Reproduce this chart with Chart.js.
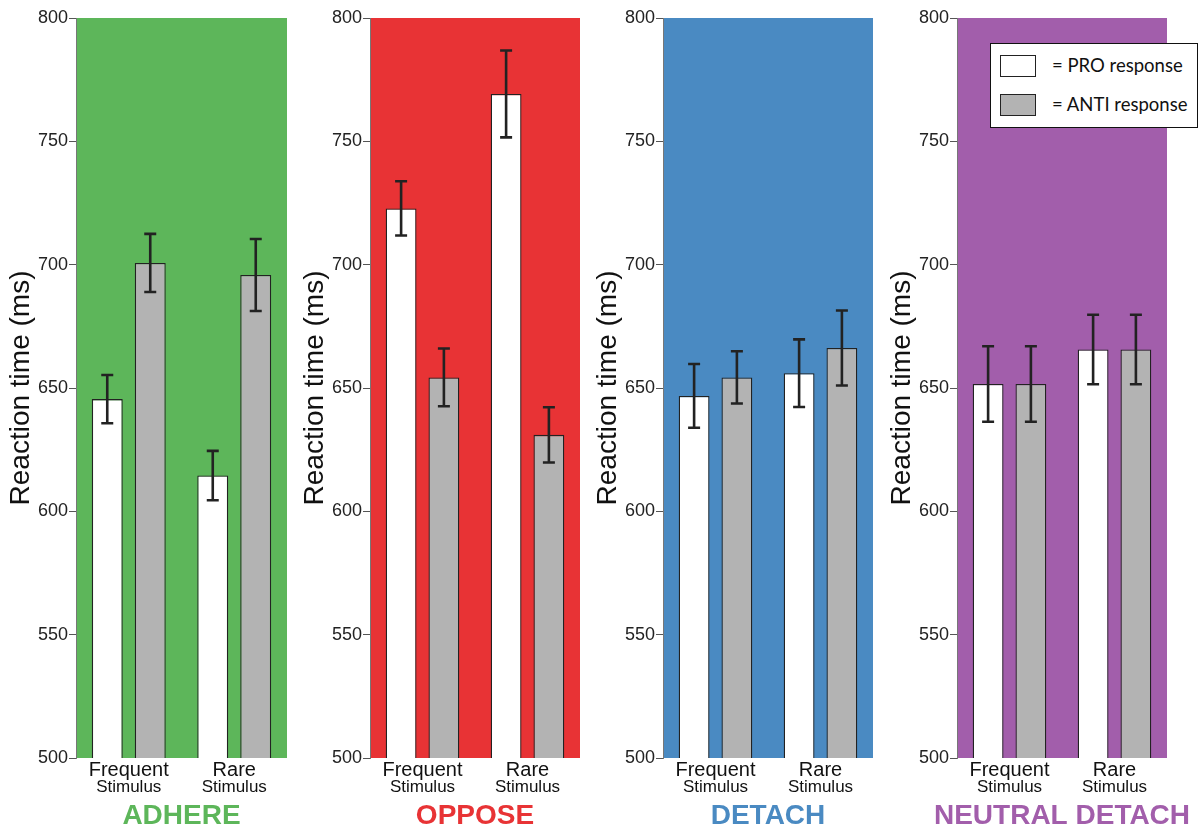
<!DOCTYPE html>
<html>
<head>
<meta charset="utf-8">
<script src="https://cdn.jsdelivr.net/npm/chart.js"></script>
<style>
  body { margin: 0; background: #fff; width: 1200px; height: 830px; position: relative; overflow: hidden; }
  canvas { position: absolute; top: 0; }
  #legend { position: absolute; left: 990px; top: 43px; width: 206px; height: 83px; border: 1.5px solid #111; background: #fff;
            font-family: Lato, "Open Sans", sans-serif; font-size: 18.5px; color: #111; }
  .sw { position: absolute; left: 9px; width: 34px; height: 20px; border: 1.3px solid #222; }
  .lt { position: absolute; left: 61px; line-height: 22px; }
</style>
</head>
<body>
<canvas id="c0" width="287" height="830" style="left:0px"></canvas>
<canvas id="c1" width="286" height="830" style="left:294px"></canvas>
<canvas id="c2" width="286" height="830" style="left:587px"></canvas>
<canvas id="c3" width="319" height="830" style="left:881px"></canvas>
<div id="legend">
  <div class="sw" style="top:11px;background:#fff"></div><div class="lt" style="top:10px">= PRO response</div>
  <div class="sw" style="top:50px;background:#b3b3b3"></div><div class="lt" style="top:49px">= ANTI response</div>
</div>
<script>
//data
const categories = ['Frequent', 'Rare'];
const subLabel = 'Stimulus';
const panels = ['ADHERE', 'OPPOSE', 'DETACH', 'NEUTRAL DETACH'];
const panelColors = ['#5db65a', '#e83335', '#4a8ac2', '#a25eab'];
const proMeans = [[645.5, 614.5], [722.8, 769.2], [646.8, 656.0], [651.6, 665.6]];
const proErr = [[9.8, 10.0], [11.0, 17.6], [12.9, 13.7], [15.3, 14.1]];
const antiMeans = [[700.7, 695.8], [654.3, 631.0], [654.3, 666.2], [651.6, 665.6]];
const antiErr = [[11.8, 14.6], [11.7, 11.2], [10.6, 15.2], [15.3, 14.1]];
const yTicks = [500, 550, 600, 650, 700, 750, 800];
const rightPad = [0, 0, 0, 33];

const FONT = '"Liberation Sans", Arial, Helvetica, sans-serif';

//plugins
const panelBg = {
  id: 'panelBg',
  beforeDraw(chart, args, opts) {
    const {ctx, chartArea: a} = chart;
    ctx.save();
    ctx.fillStyle = opts.color;
    ctx.fillRect(a.left, a.top, a.right - a.left, a.bottom - a.top);
    ctx.restore();
  }
};

const errorBars = {
  id: 'errorBars',
  afterDatasetsDraw(chart, args, opts) {
    const {ctx} = chart;
    const y = chart.scales.y;
    ctx.save();
    ctx.strokeStyle = '#222';
    ctx.lineWidth = 2.6;
    chart.data.datasets.forEach((ds, di) => {
      chart.getDatasetMeta(di).data.forEach((bar, i) => {
        const m = ds.data[i], e = ds.err[i];
        const top = y.getPixelForValue(m + e), bot = y.getPixelForValue(m - e);
        ctx.beginPath();
        ctx.moveTo(bar.x, top); ctx.lineTo(bar.x, bot);
        ctx.moveTo(bar.x - 6, top); ctx.lineTo(bar.x + 6, top);
        ctx.moveTo(bar.x - 6, bot); ctx.lineTo(bar.x + 6, bot);
        ctx.stroke();
      });
    });
    ctx.restore();
  }
};

const catLabels = {
  id: 'catLabels',
  afterDraw(chart, args, opts) {
    const {ctx, chartArea: a} = chart;
    const x = chart.scales.x;
    ctx.save();
    ctx.textAlign = 'center';
    ctx.textBaseline = 'middle';
    ctx.fillStyle = '#111';
    categories.forEach((c, i) => {
      const px = x.getPixelForValue(i);
      ctx.font = '20px ' + FONT;
      ctx.fillText(c, px, a.bottom + 12);
      ctx.font = '17px ' + FONT;
      ctx.fillText(subLabel, px, a.bottom + 29);
    });
    ctx.font = 'bold 28px ' + FONT;
    ctx.fillStyle = opts.color;
    ctx.fillText(opts.title, (a.left + a.right) / 2, a.bottom + 58);
    ctx.restore();
  }
};

panels.forEach((name, p) => {
  const data = {
    labels: categories,
    datasets: [
      { label: 'PRO', data: proMeans[p], err: proErr[p], backgroundColor: '#ffffff', borderColor: '#222', borderWidth: 1.3 },
      { label: 'ANTI', data: antiMeans[p], err: antiErr[p], backgroundColor: '#b3b3b3', borderColor: '#222', borderWidth: 1.3 }
    ]
  };

  const config = {
    type: 'bar',
    data,
    options: {
      responsive: false,
      animation: false,
      layout: { padding: { top: 18, right: rightPad[p], bottom: 0, left: 0 } },
      datasets: { bar: { categoryPercentage: 0.815, barPercentage: 0.72 } },
      plugins: {
        legend: { display: false },
        tooltip: { enabled: false },
        panelBg: { color: panelColors[p] },
        catLabels: { color: panelColors[p], title: name }
      },
      scales: {
        x: {
          grid: { display: false },
          border: { display: false },
          ticks: { display: false },
          afterFit(s) { s.height = 72; }
        },
        y: {
          min: 500, max: 800,
          afterBuildTicks(s) { s.ticks = yTicks.map(v => ({ value: v })); },
          afterFit(s) { s.width = 76; },
          grid: { drawOnChartArea: false, drawTicks: true, tickLength: 7, color: '#555', lineWidth: 1 },
          border: { display: true, color: '#777', width: 1 },
          ticks: { padding: 1, color: '#222', font: { family: FONT, size: 18 } },
          title: { display: true, text: 'Reaction time (ms)', color: '#111', font: { family: FONT, size: 28 }, padding: { top: 4, bottom: 0 } }
        }
      }
    },
    plugins: [panelBg, errorBars, catLabels]
  };

  new Chart(document.getElementById('c' + p), config);
});
</script>
</body>
</html>
